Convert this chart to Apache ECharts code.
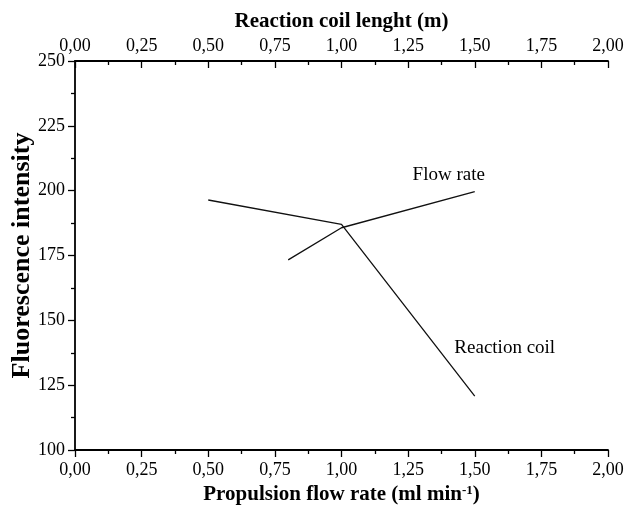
<!DOCTYPE html>
<html><head><meta charset="utf-8">
<script src="https://cdn.jsdelivr.net/npm/echarts@6/dist/echarts.min.js"></script>
<style>html,body{margin:0;padding:0;background:#fff}#c{width:631px;height:505px}</style>
</head><body><div id="c"></div>
<script>
const flowRateX = [0.8, 1.0, 1.5];
const flowRateY = [173.3, 185.7, 199.6];
const coilX = [0.5, 1.0, 1.5];
const coilY = [196.4, 187.0, 120.8];
const xTicks = [0, 0.25, 0.5, 0.75, 1.0, 1.25, 1.5, 1.75, 2.0];
const yTicks = [100, 125, 150, 175, 200, 225, 250];

const FONT = 'Liberation Serif';
const fmt = v => v.toFixed(2).replace('.', ',');
const chart = echarts.init(document.getElementById('c'), null, {renderer: 'canvas'});
const tickStyle = {color: '#000', width: 1.3};
const axisCommon = {
  type: 'value', min: xTicks[0], max: xTicks[xTicks.length - 1], interval: 0.25,
  axisLine: {show: true, lineStyle: {color: '#000', width: 1.8}},
  splitLine: {show: false},
  nameLocation: 'middle',
  nameTextStyle: {color: '#000', fontFamily: FONT, fontSize: 21, fontWeight: 'bold'}
};
chart.setOption({
  animation: false,
  grid: {left: 75, right: 23, top: 61, bottom: 55, containLabel: false, outerBoundsMode: 'none'},
  xAxis: [
    Object.assign({}, axisCommon, {
      position: 'bottom',
      name: '{b|Propulsion flow rate (ml min}{s|-1}{b|)}',
      nameGap: 33,
      nameTextStyle: {rich: {
        b: {color: '#000', fontFamily: FONT, fontSize: 21, fontWeight: 'bold'},
        s: {color: '#000', fontFamily: FONT, fontSize: 13, fontWeight: 'bold', verticalAlign: 'top', padding: [0, 0, 9, 0]}
      }},
      axisTick: {show: true, inside: false, length: 7, lineStyle: tickStyle},
      minorTick: {show: true, splitNumber: 2, length: 4, lineStyle: tickStyle},
      axisLabel: {formatter: fmt, color: '#000', fontFamily: FONT, fontSize: 18, margin: 11}
    }),
    Object.assign({}, axisCommon, {
      position: 'top',
      name: 'Reaction coil lenght (m)',
      nameGap: 20,
      axisTick: {show: true, inside: true, length: 7, lineStyle: tickStyle},
      minorTick: {show: true, splitNumber: 2, length: 4, lineStyle: tickStyle},
      axisLabel: {formatter: fmt, color: '#000', fontFamily: FONT, fontSize: 18, margin: 6}
    })
  ],
  yAxis: {
    type: 'value', min: yTicks[0], max: yTicks[yTicks.length - 1], interval: 25,
    name: 'Fluorescence intensity', nameLocation: 'middle', nameGap: 40, nameMoveOverlap: false,
    nameTextStyle: {color: '#000', fontFamily: FONT, fontSize: 26, fontWeight: 'bold'},
    axisLine: {show: true, lineStyle: {color: '#000', width: 1.8}},
    axisTick: {show: true, inside: false, length: 7, lineStyle: tickStyle},
    minorTick: {show: true, splitNumber: 2, length: 4, lineStyle: tickStyle},
    axisLabel: {color: '#000', fontFamily: FONT, fontSize: 18, margin: 10},
    splitLine: {show: false}
  },
  series: [
    {
      name: 'Flow rate', type: 'line', xAxisIndex: 0, symbol: 'none',
      lineStyle: {color: '#111', width: 1.3},
      data: flowRateX.map((x, i) => [x, flowRateY[i]]),
      endLabel: {show: true, formatter: 'Flow rate', distance: 0, align: 'center', verticalAlign: 'middle',
        offset: [-26, -17], color: '#000', fontFamily: FONT, fontSize: 19}
    },
    {
      name: 'Reaction coil', type: 'line', xAxisIndex: 1, symbol: 'none',
      lineStyle: {color: '#111', width: 1.3},
      data: coilX.map((x, i) => [x, coilY[i]]),
      endLabel: {show: true, formatter: 'Reaction coil', distance: 0, align: 'center', verticalAlign: 'middle',
        offset: [30, -48], color: '#000', fontFamily: FONT, fontSize: 19}
    }
  ]
});
</script></body></html>
